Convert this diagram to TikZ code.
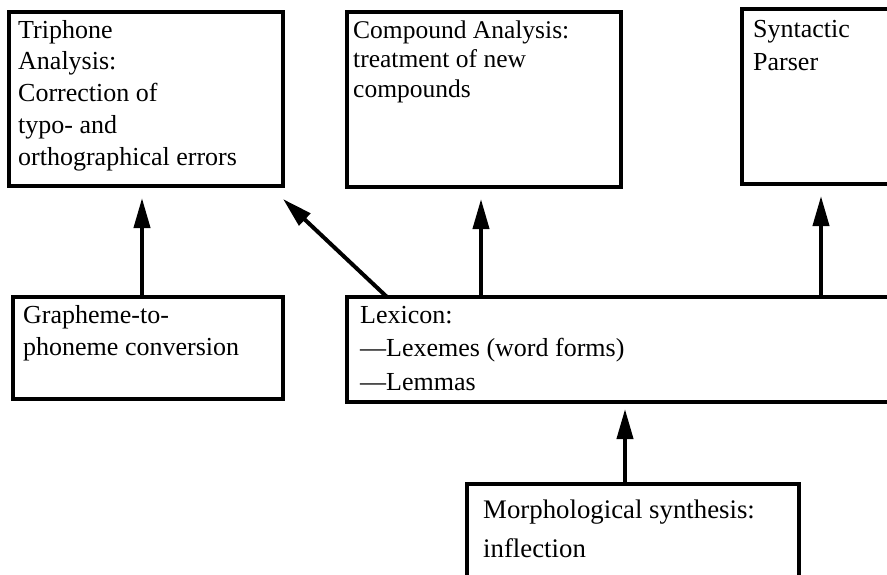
\documentclass[tikz,border=0pt]{standalone}
\usepackage{fontspec}
\setmainfont{Liberation Serif}
\usetikzlibrary{arrows.meta,calc}
\begin{document}
\begin{tikzpicture}[x=1pt,y=-1pt,
  box/.style={draw, line width=3.4pt, rectangle, inner sep=0pt, outer sep=0pt, anchor=north west},
  txt/.style={anchor=base west, inner sep=0pt, align=left, font=\fontsize{26}{32}\selectfont},
  arr/.style={line width=4pt, -{Triangle[length=30pt,width=16pt]}}]
\clip (0,0) rectangle (887,574);
\fill[white] (0,0) rectangle (887,574);
% boxes
\node[box, minimum width=274pt, minimum height=174pt] (tri) at (9,12) {};
\node[box, minimum width=274pt, minimum height=175pt] (comp) at (347,12) {};
\node[box, minimum width=158pt, minimum height=175pt] (syn) at (742,9) {};
\node[box, minimum width=270pt, minimum height=102pt] (graph) at (13,297) {};
\node[box, minimum width=560pt, minimum height=105pt] (lex) at (347,297) {};
\node[box, minimum width=332pt, minimum height=110pt] (morph) at (467,484) {};
% texts (anchored at the baseline of their last line)
\node[txt, font=\fontsize{26}{31.75}\selectfont] (tritxt) at (18,165) {Triphone\\Analysis:\\Correction of\\typo- and\\orthographical errors};
\node[txt, font=\fontsize{25.5}{29.5}\selectfont] (comptxt) at (353,97) {Compound Analysis:\\treatment of new\\compounds};
\node[txt, font=\fontsize{26}{33}\selectfont] (syntxt) at (753,70) {Syntactic\\Parser};
\node[txt, font=\fontsize{26}{32}\selectfont] (graphtxt) at (23,355) {Grapheme-to-\\phoneme conversion};
\node[txt, font=\fontsize{26}{33.5}\selectfont] (lextxt) at (360,390) {Lexicon:\\—Lexemes (word forms)\\—Lemmas};
\node[txt, font=\fontsize{26.8}{39}\selectfont] (morphtxt) at (483,557) {Morphological synthesis:\\inflection};
% arrows
\draw[arr] ([xshift=-6pt]graph.north) -- ([xshift=-6pt,yshift=-12pt]graph.north |- tri.south);
\draw[arr] ([xshift=40pt]lex.north west) -- ([yshift=-13pt]tri.south east);
\draw[arr] ([xshift=-3pt]comp.south |- lex.north) -- ([xshift=-3pt,yshift=-12pt]comp.south);
\draw[arr] (syn.south |- lex.north) -- ([yshift=-12pt]syn.south);
\draw[arr] ([xshift=-8pt]morph.north) -- ([xshift=-8pt,yshift=-7pt]morph.north |- lex.south);
\end{tikzpicture}
\end{document}
